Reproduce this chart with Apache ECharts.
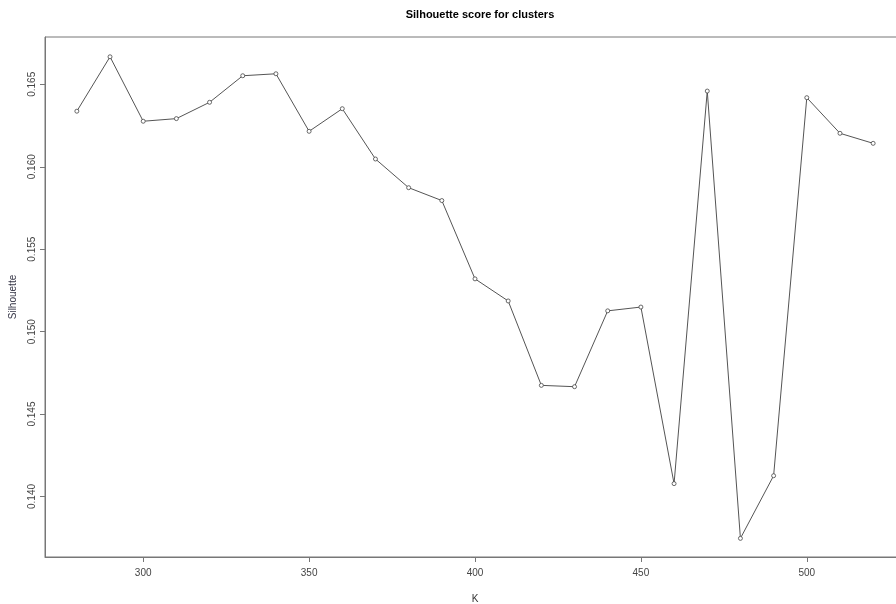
<!DOCTYPE html>
<html>
<head>
<meta charset="utf-8">
<script src="https://cdn.jsdelivr.net/npm/echarts@6/dist/echarts.min.js"></script>
<style>html,body{margin:0;padding:0;background:#fff}#c{width:896px;height:604px}</style>
</head>
<body>
<div id="c"></div>
<script>
const kValues = [280,290,300,310,320,330,340,350,360,370,380,390,400,410,420,430,440,450,460,470,480,490,500,510,520];
const silhouette = [0.16337,0.16667,0.16276,0.16292,0.16391,0.16552,0.16564,0.16215,0.16352,0.16047,0.15873,0.15795,0.15320,0.15186,0.14674,0.14666,0.15126,0.15149,0.14078,0.16459,0.13746,0.14126,0.16419,0.16203,0.16142];
const xTicks = [300,350,400,450,500];
const yTicks = [0.140,0.145,0.150,0.155,0.160,0.165];
const titleText = 'Silhouette score for clusters';
const xName = 'K';
const yName = 'Silhouette';

const font = '"Liberation Sans Narrow","Liberation Sans",Arial,sans-serif';
const chart = echarts.init(document.getElementById('c'), null, {renderer:'canvas'});
chart.setOption({
  animation:false,
  backgroundColor:'#fff',
  title:{text:titleText,left:475,top:4,textAlign:'center',
    textStyle:{fontFamily:font,fontSize:11,fontWeight:'bold',color:'#000'}},
  grid:{left:45,top:37,width:860,height:520,outerBoundsMode:'none',containLabel:false,
    show:true,borderColor:'#777',borderWidth:1,backgroundColor:'transparent'},
  xAxis:{type:'value',min:270.4,max:529.6,
    name:xName,nameLocation:'middle',nameGap:37,
    nameTextStyle:{fontFamily:font,fontSize:10,color:'#333'},
    axisLine:{show:true,lineStyle:{color:'#777',width:1}},
    axisTick:{show:true,length:5,customValues:xTicks,lineStyle:{color:'#777'}},
    axisLabel:{customValues:xTicks,margin:11,fontFamily:font,fontSize:10,color:'#444'},
    splitLine:{show:false}},
  yAxis:{type:'value',min:0.13633,max:0.16787,
    name:yName,nameLocation:'middle',nameGap:27,nameRotate:90,
    nameTextStyle:{fontFamily:font,fontSize:10,color:'#334'},
    axisLine:{show:true,lineStyle:{color:'#777',width:1}},
    axisTick:{show:true,length:5,customValues:yTicks,lineStyle:{color:'#777'}},
    axisLabel:{customValues:yTicks,rotate:90,margin:8,fontFamily:font,fontSize:10,color:'#444',
      formatter:v=>v.toFixed(3)},
    splitLine:{show:false}},
  series:[{type:'line',data:kValues.map((k,i)=>[k,silhouette[i]]),
    symbol:'circle',symbolSize:4,showAllSymbol:true,
    lineStyle:{color:'#555',width:1},
    itemStyle:{color:'#fff',borderColor:'#444',borderWidth:0.8}}]
});
</script>
</body>
</html>
